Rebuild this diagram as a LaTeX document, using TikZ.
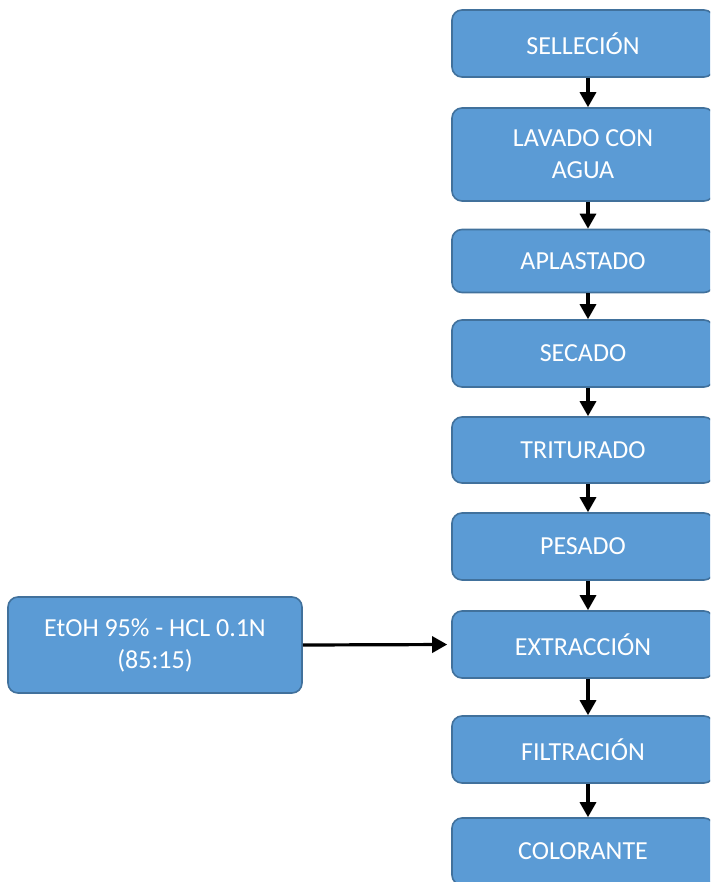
\documentclass[tikz,border=0pt]{standalone}
\usepackage{fontspec}
\setmainfont{Carlito}
\usetikzlibrary{arrows.meta}
\definecolor{boxfill}{HTML}{5B9BD5}
\definecolor{boxedge}{HTML}{41719C}
\tikzset{
  stepbox/.style={draw=boxedge, fill=boxfill, line width=1.6pt, rounded corners=10pt,
    inner sep=0pt, minimum width=262pt, text=white, align=center,
    font=\fontsize{26}{32}\selectfont},
  flow/.style={line width=3.2pt, -{Triangle[width=16pt,length=15pt]}}
}
\begin{document}
\begin{tikzpicture}[x=1pt,y=-1pt]
\useasboundingbox (0,0) rectangle (710,882);
\clip (0,0) rectangle (710,882);
\node[stepbox, minimum height=67pt] (s1) at (583,43.5) {SELLECIÓN};
\node[stepbox, minimum height=93pt] (s2) at (583,154.5) {LAVADO CON\\AGUA};
\node[stepbox, minimum height=63pt] (s3) at (583,261) {APLASTADO};
\node[stepbox, minimum height=67pt] (s4) at (583,353.5) {SECADO};
\node[stepbox, minimum height=66pt] (s5) at (583,450) {TRITURADO};
\node[stepbox, minimum height=67pt] (s6) at (583,546.5) {PESADO};
\node[stepbox, minimum height=67pt] (s7) at (583,644.5) {EXTRACCIÓN};
\node[stepbox, minimum height=67pt] (s8) at (583,749.5) {FILTRACIÓN};
\node[stepbox, minimum height=67pt] (s9) at (583,851.5) {COLORANTE};
\node[stepbox, minimum width=294pt, minimum height=96pt] (solv) at (155,645) {EtOH 95\% - HCL 0.1N\\(85:15)};
% downward connectors sit a little right of the box centres
\foreach \a/\b in {s1/s2,s2/s3,s3/s4,s4/s5,s5/s6,s6/s7,s7/s8,s8/s9}
  \draw[flow] ([xshift=5pt]\a.south) -- ([xshift=5pt]\b.north);
\draw[flow, shorten >=4pt] (solv.east) -- (s7.west);
\end{tikzpicture}
\end{document}
